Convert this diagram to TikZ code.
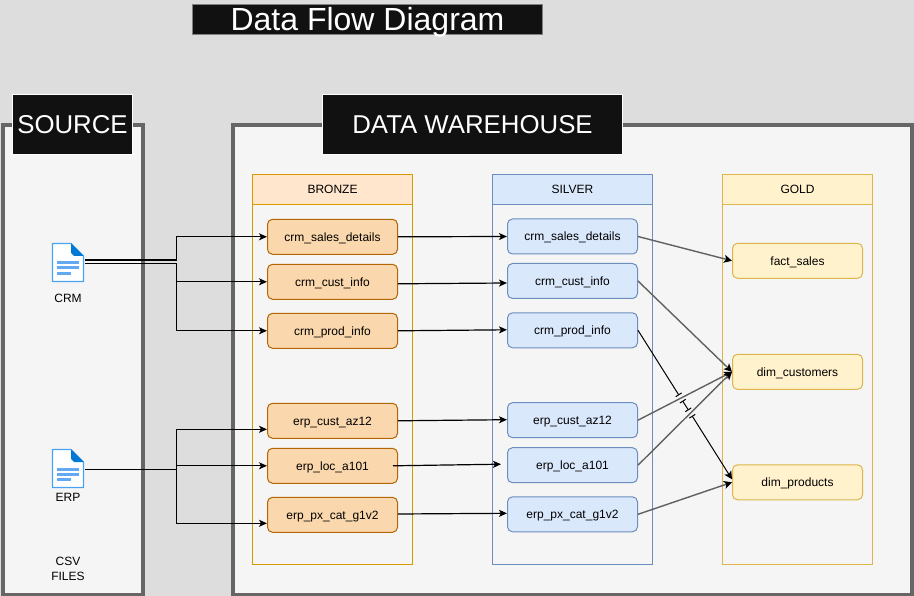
\documentclass[tikz,border=0pt]{standalone}
\usepackage{fontspec}
\setmainfont{Liberation Sans}
\usetikzlibrary{arrows.meta,calc}

\definecolor{backdrop}{HTML}{DDDDDD}
\definecolor{panel}{HTML}{F5F5F5}
\definecolor{banner}{HTML}{111111}
\definecolor{docblue}{HTML}{0078D4}
\definecolor{docedge}{HTML}{4AA3F0}
\definecolor{docline}{HTML}{62A8F2}
\definecolor{silverfill}{HTML}{DAE8FC}
\definecolor{silveredge}{HTML}{6C8EBF}
\definecolor{goldfill}{HTML}{FFF2CC}
\definecolor{goldedge}{HTML}{DDB54A}
\definecolor{bronzefill}{HTML}{FAD7AC}
\definecolor{bronzeedge}{HTML}{B46504}
\definecolor{bronzehead}{HTML}{FFE6CC}
\definecolor{bronzeline}{HTML}{D79B00}

\tikzset{
  zone/.style={draw=black!60, line width=4pt, fill=panel, minimum height=470pt, inner sep=0pt},
  bannerbox/.style={draw=white, line width=1pt, fill=banner, text=white, inner sep=0pt,
    minimum height=60pt, font=\fontsize{25.8}{30}\selectfont},
  layer/.style={rectangle, minimum height=390pt, inner sep=0pt, line width=1pt},
  layerhead/.style={rectangle, minimum height=30pt, inner sep=0pt, line width=1pt,
    font=\fontsize{12}{15}\selectfont},
  tablebox/.style={rectangle, rounded corners=5pt, minimum height=35pt, minimum width=130pt,
    inner sep=0pt, line width=1pt, text height=9pt, text depth=.4pt,
    font=\fontsize{12}{15}\selectfont},
  bronzebox/.style={tablebox, draw=bronzeedge, fill=bronzefill},
  silverbox/.style={tablebox, draw=silveredge, fill=silverfill},
  goldbox/.style={tablebox, draw=goldedge, fill=goldfill},
  docnode/.style={minimum width=34pt, minimum height=39pt, inner sep=0pt},
  caption/.style={align=center, inner sep=0pt, font=\fontsize{12}{15}\selectfont},
  loadflow/.style={line width=1.2pt, black, -{Stealth[length=8pt, width=7pt, inset=2pt]}},
  goldflow/.style={line width=1.4pt, black!62, -{Stealth[black, length=8pt, width=8pt, inset=2pt]}},
  jumpflow/.style={line width=1pt, black}
}

% file icon, centred on a named node
\newcommand{\docicon}[1]{
  \begin{scope}[shift={(#1)}]
    \draw[docedge, line width=1.4pt, fill=white, line join=round]
      (-15.5,-19) -- (3,-19) -- (15.5,-6.5) -- (15.5,19) -- (-15.5,19) -- cycle;
    \fill[docblue] (3,-19) -- (15.5,-6.5) -- (6,-6.5) -- (3,-9.5) -- cycle;
    \fill[docline] (-10.7,-1) rectangle (11.3,2);
    \fill[docline] (-10.7,4) rectangle (11.3,7);
    \fill[docline] (-10.7,9.5) rectangle (3,12.5);
  \end{scope}
}

\begin{document}
\begin{tikzpicture}[x=1pt, y=-1pt]
  \useasboundingbox (0, 0) rectangle (914, 596);
  \fill[backdrop] (0, 0) rectangle (914, 596);

  % title
  \node[
    draw=black!50,
    line width=1pt,
    fill=banner,
    text=white,
    inner sep=0pt,
    minimum width=350pt,
    minimum height=30.5pt,
    text height=23pt,
    text depth=1pt,
    font=\fontsize{32}{36}\selectfont
  ] (title) at (367.5, 19.5) {Data Flow Diagram};

  % zones
  \node[zone, minimum width=140pt] (sourcezone) at (72.5, 359.7) {};
  \node[zone, minimum width=679pt] (warehousezone) at (572.5, 359.7) {};
  \node[bannerbox, minimum width=120pt] (sourcetitle) at (72.5, 124.7) {SOURCE};
  \node[bannerbox, minimum width=300pt] (warehousetitle) at (472.5, 124.7) {DATA WAREHOUSE};

  % layers
  \node[layer, draw=bronzeline, minimum width=160pt] (bronzelayer) at (332.5, 369.7) {};
  \node[layerhead, draw=bronzeline, fill=bronzehead, minimum width=160pt] (bronzetitle) at (332.5, 189.5) {BRONZE};
  \node[layer, draw=silveredge, minimum width=160pt] (silverlayer) at (572.5, 369.7) {};
  \node[layerhead, draw=silveredge, fill=silverfill, minimum width=160pt] (silvertitle) at (572.5, 189.5) {SILVER};
  \node[layer, draw=goldedge, minimum width=150pt] (goldlayer) at (797.5, 369.7) {};
  \node[layerhead, draw=goldedge, fill=goldfill, minimum width=150pt] (goldtitle) at (797.5, 189.5) {GOLD};

  % source files
  \node[docnode] (crmfile) at (68, 262.5) {};
  \docicon{crmfile.center}
  \node[caption] (crmlabel) at (68, 298) {CRM};
  \node[docnode] (erpfile) at (68, 468.5) {};
  \docicon{erpfile.center}
  \node[caption] (erplabel) at (68, 497.5) {ERP};
  \node[caption] (csvlabel) at (68, 569) {CSV\\FILES};

  % bronze tables
  \node[bronzebox] (bsales) at (332.5, 236.8) {crm\_sales\_details};
  \node[bronzebox] (bcust) at (332.5, 281.8) {crm\_cust\_info};
  \node[bronzebox] (bprod) at (332.5, 330.8) {crm\_prod\_info};
  \node[bronzebox] (baz) at (332.5, 420.8) {erp\_cust\_az12};
  \node[bronzebox] (bloc) at (332.5, 465.8) {erp\_loc\_a101};
  \node[bronzebox] (bpx) at (332.5, 514.8) {erp\_px\_cat\_g1v2};

  % silver tables
  \node[silverbox] (ssales) at (572.5, 236.5) {crm\_sales\_details};
  \node[silverbox] (scust) at (572.5, 281) {crm\_cust\_info};
  \node[silverbox] (sprod) at (572.5, 330.3) {crm\_prod\_info};
  \node[silverbox] (saz) at (572.5, 420.2) {erp\_cust\_az12};
  \node[silverbox] (sloc) at (572.5, 465.2) {erp\_loc\_a101};
  \node[silverbox] (spx) at (572.5, 514.3) {erp\_px\_cat\_g1v2};

  % gold tables
  \node[goldbox] (gsales) at (797.5, 260.8) {fact\_sales};
  \node[goldbox] (gcust) at (797.5, 371.8) {dim\_customers};
  \node[goldbox] (gprod) at (797.5, 482.3) {dim\_products};

  % files to bronze
  \coordinate (crmsplit) at (176.5, 263.5);
  \coordinate (erpsplit) at (176.5, 469.5);
  \draw[loadflow] ([yshift=2.5pt]crmfile.east) -| ([yshift=2.5pt]crmsplit) |- (bsales.west);
  \draw[loadflow] ([yshift=-1pt]crmfile.east) -- (crmsplit) |- (bcust.west);
  \draw[loadflow] (crmsplit) |- (bprod.west);
  \draw[loadflow] ([yshift=-1pt]erpfile.east) -- (erpsplit) |- ([yshift=-8.5pt]baz.west);
  \draw[loadflow] (erpsplit) |- (bloc.west);
  \draw[loadflow] (erpsplit) |- ([yshift=-8.5pt]bpx.west);

  % bronze to silver
  \draw[loadflow] (bsales.east) -- (ssales.west);
  \draw[loadflow] ([yshift=-2pt]bcust.east) -- ([yshift=-2pt]scust.west);
  \draw[loadflow] (bprod.east) -- ([yshift=.5pt]sprod.west);
  \draw[loadflow] (baz.east) -- ([yshift=.5pt]saz.west);
  \draw[loadflow] ([xshift=-5pt]bloc.east) -- ([xshift=-6pt, yshift=1pt]sloc.west);
  \draw[loadflow] ([yshift=.8pt]bpx.east) -- ([yshift=1pt]spx.west);

  % silver to gold
  \draw[goldflow] (ssales.east) -- (gsales.west);
  \draw[goldflow] (scust.east) -- (gcust.west);
  \draw[goldflow] (saz.east) -- (gcust.west);
  \draw[goldflow] (sloc.east) -- (gcust.west);
  \draw[goldflow] (spx.east) -- (gprod.west);

  % line that hops over the two above
  \coordinate (hopa) at (680.7, 398);
  \coordinate (hopb) at (690.3, 413);
  \draw[jumpflow, -{Bar[width=7pt, length=1pt]}] (sprod.east) -- ($(hopa)!3.3pt!(sprod.east)$);
  \draw[jumpflow, {Bar[width=7pt, length=1pt]}-{Bar[width=7pt, length=1pt]}]
    ($(hopa)!3.3pt!(hopb)$) -- ($(hopb)!3.3pt!(hopa)$);
  \draw[jumpflow, {Bar[width=7pt, length=1pt]}-{Stealth[length=8pt, width=8pt, inset=2pt]}]
    ($(hopb)!3.3pt!([yshift=3pt]gprod.west)$) -- ([yshift=3pt]gprod.west);
\end{tikzpicture}
\end{document}
